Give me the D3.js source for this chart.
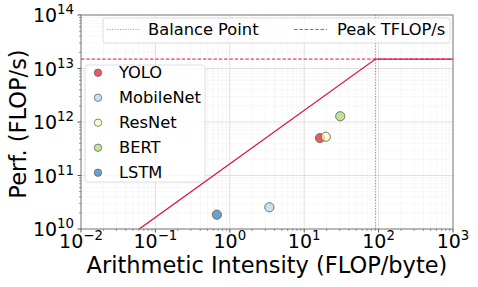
<!DOCTYPE html>
<html>
<head>
<meta charset="utf-8">
<script src="https://cdn.jsdelivr.net/npm/d3@7"></script>
<style>
  body { margin: 0; background: #fff; }
  svg { font-family: "DejaVu Sans", sans-serif; display: block; }
</style>
</head>
<body>
<div id="chart"></div>
<script>
// Roofline values
var models = ["YOLO", "MobileNet", "ResNet", "BERT", "LSTM"];
var intensity = [16.3, 3.4, 19.5, 30.5, 0.67];      // FLOP/byte
var perf = [5.0e11, 2.55e10, 5.3e11, 1.28e12, 1.85e10]; // FLOP/s
var colors = ["#d7191c", "#abd9e9", "#ffffbf", "#a6d96a", "#2c7bb6"];

var peak = 1.5e13;        // FLOP/s
var bandwidth = 1.65e11;  // byte/s
var balance = peak / bandwidth;

var xTickExp = [-2, -1, 0, 1, 2, 3];
var yTickExp = [10, 11, 12, 13, 14];

var width = 478, height = 287;
var margin = {top: 15, right: 25, bottom: 58, left: 81};

var svg = d3.select("#chart").append("svg")
    .attr("width", width)
    .attr("height", height);

var x = d3.scaleLog()
    .domain([1e-2, 1e3])
    .range([margin.left, width - margin.right]);

var y = d3.scaleLog()
    .domain([1e10, 1e14])
    .range([height - margin.bottom, margin.top]);

var x0 = x.range()[0], x1 = x.range()[1];
var y0 = y.range()[0], y1 = y.range()[1];

svg.append("defs").append("clipPath")
    .attr("id", "clip")
  .append("rect")
    .attr("x", x0).attr("y", y1)
    .attr("width", x1 - x0).attr("height", y0 - y1);

// minor / major positions
function minors(lo, hi) {
  var out = [];
  for (var e = lo; e < hi; e++)
    for (var m = 2; m <= 9; m++) out.push(m * Math.pow(10, e));
  return out;
}
var xMinor = minors(-2, 3), yMinor = minors(10, 14);

// Grid
var grid = svg.append("g");
grid.selectAll(".xm").data(xMinor).enter().append("line")
    .attr("x1", function(d) { return x(d) }).attr("x2", function(d) { return x(d) })
    .attr("y1", y0).attr("y2", y1)
    .attr("stroke", "#f1f1f1").attr("stroke-width", 0.6);
grid.selectAll(".ym").data(yMinor).enter().append("line")
    .attr("y1", function(d) { return y(d) }).attr("y2", function(d) { return y(d) })
    .attr("x1", x0).attr("x2", x1)
    .attr("stroke", "#f1f1f1").attr("stroke-width", 0.6);
grid.selectAll(".xM").data(xTickExp).enter().append("line")
    .attr("x1", function(d) { return x(Math.pow(10, d)) }).attr("x2", function(d) { return x(Math.pow(10, d)) })
    .attr("y1", y0).attr("y2", y1)
    .attr("stroke", "#d9d9d9").attr("stroke-width", 0.8);
grid.selectAll(".yM").data(yTickExp).enter().append("line")
    .attr("y1", function(d) { return y(Math.pow(10, d)) }).attr("y2", function(d) { return y(Math.pow(10, d)) })
    .attr("x1", x0).attr("x2", x1)
    .attr("stroke", "#d9d9d9").attr("stroke-width", 0.8);

// Roofline
var plot = svg.append("g").attr("clip-path", "url(#clip)");

// balance point
plot.append("line")
    .attr("x1", x(balance)).attr("x2", x(balance))
    .attr("y1", y0).attr("y2", y1)
    .attr("stroke", "#e8506e").attr("stroke-opacity", 0.75)
    .attr("stroke-width", 1.2).attr("stroke-dasharray", "1.4,1.4");

// peak
plot.append("line")
    .attr("x1", x0).attr("x2", x1)
    .attr("y1", y(peak)).attr("y2", y(peak))
    .attr("stroke", "#dc143c").attr("stroke-width", 1)
    .attr("stroke-dasharray", "3.5,1.8");

var roof = [1e-2, balance, 1e3].map(function(v) {
  return [v, Math.min(peak, bandwidth * v)];
});
plot.append("path")
    .datum(roof)
    .attr("fill", "none")
    .attr("stroke", "#dc143c")
    .attr("stroke-width", 1.3)
    .attr("d", d3.line().x(function(d) { return x(d[0]) }).y(function(d) { return y(d[1]) }));

// Points
plot.selectAll(".pt").data(models).enter().append("circle")
    .attr("cx", function(d, i) { return x(intensity[i]) })
    .attr("cy", function(d, i) { return y(perf[i]) })
    .attr("r", 4.6)
    .attr("fill", function(d, i) { return colors[i] })
    .attr("fill-opacity", 0.7)
    .attr("stroke", "#666").attr("stroke-width", 0.9);

// Spines
svg.append("rect")
    .attr("x", x0).attr("y", y1)
    .attr("width", x1 - x0).attr("height", y0 - y1)
    .attr("fill", "none").attr("stroke", "#808080").attr("stroke-width", 1);

// Ticks
var ticks = svg.append("g").attr("stroke", "#555");
ticks.selectAll(".xt").data(xTickExp).enter().append("line")
    .attr("x1", function(d) { return x(Math.pow(10, d)) }).attr("x2", function(d) { return x(Math.pow(10, d)) })
    .attr("y1", y0).attr("y2", y0 + 3.5);
ticks.selectAll(".xmt").data(xMinor).enter().append("line")
    .attr("x1", function(d) { return x(d) }).attr("x2", function(d) { return x(d) })
    .attr("y1", y0).attr("y2", y0 + 2).attr("stroke-width", 0.6);
ticks.selectAll(".yt").data(yTickExp).enter().append("line")
    .attr("y1", function(d) { return y(Math.pow(10, d)) }).attr("y2", function(d) { return y(Math.pow(10, d)) })
    .attr("x1", x0).attr("x2", x0 - 3.5);
ticks.selectAll(".ymt").data(yMinor).enter().append("line")
    .attr("y1", function(d) { return y(d) }).attr("y2", function(d) { return y(d) })
    .attr("x1", x0).attr("x2", x0 - 2).attr("stroke-width", 0.6);

function powLabel(sel, e) {
  sel.append("tspan").text("10");
  sel.append("tspan")
      .attr("dy", -8)
      .style("font-size", "13.3px")
      .text(String(e).replace("-", "\u2212"));
}

svg.selectAll(".xl").data(xTickExp).enter().append("text")
    .attr("x", function(d) { return x(Math.pow(10, d)) })
    .attr("y", y0 + 19)
    .attr("text-anchor", "middle")
    .style("font-size", "19px")
    .each(function(d) { powLabel(d3.select(this), d) });

svg.selectAll(".yl").data(yTickExp).enter().append("text")
    .attr("x", x0 - 7)
    .attr("y", function(d) { return y(Math.pow(10, d)) + 7.3 })
    .attr("text-anchor", "end")
    .style("font-size", "19px")
    .each(function(d) { powLabel(d3.select(this), d) });

// Axis labels
svg.append("text")
    .attr("x", (x0 + x1) / 2)
    .attr("y", 273)
    .attr("text-anchor", "middle")
    .style("font-size", "22.5px")
    .text("Arithmetic Intensity (FLOP/byte)");

svg.append("text")
    .attr("transform", "translate(26," + ((y0 + y1) / 2 + 2) + ") rotate(-90)")
    .attr("text-anchor", "middle")
    .style("font-size", "22.5px")
    .text("Perf. (FLOP/s)");

// Legend for the model points
var leg1 = svg.append("g");
leg1.append("rect")
    .attr("x", 85).attr("y", 65)
    .attr("width", 120).attr("height", 117)
    .attr("rx", 3)
    .attr("fill", "#fff").attr("fill-opacity", 0.8)
    .attr("stroke", "#d6d6d6").attr("stroke-width", 0.8);
var item = leg1.selectAll(".it").data(models).enter().append("g")
    .attr("transform", function(d, i) { return "translate(98," + (72.7 + i * 25) + ")" });
item.append("circle")
    .attr("r", 3.7)
    .attr("fill", function(d, i) { return colors[i] })
    .attr("fill-opacity", 0.7)
    .attr("stroke", "#666").attr("stroke-width", 0.8);
item.append("text")
    .attr("x", 21).attr("y", 5.6)
    .style("font-size", "16.3px")
    .text(function(d) { return d });

// Legend for the roof lines
var leg2 = svg.append("g");
leg2.append("rect")
    .attr("x", 103).attr("y", 18)
    .attr("width", 347).attr("height", 25)
    .attr("rx", 3)
    .attr("fill", "#fff").attr("fill-opacity", 0.8)
    .attr("stroke", "#d6d6d6").attr("stroke-width", 0.8);
leg2.append("line")
    .attr("x1", 107).attr("x2", 140).attr("y1", 29.5).attr("y2", 29.5)
    .attr("stroke", "#999").attr("stroke-width", 1)
    .attr("stroke-dasharray", "1,1.6");
leg2.append("text")
    .attr("x", 148).attr("y", 35.3)
    .style("font-size", "16.3px")
    .text("Balance Point");
leg2.append("line")
    .attr("x1", 294).attr("x2", 327).attr("y1", 29.5).attr("y2", 29.5)
    .attr("stroke", "#777").attr("stroke-width", 1)
    .attr("stroke-dasharray", "3.5,1.8");
leg2.append("text")
    .attr("x", 337).attr("y", 35.3)
    .style("font-size", "16.3px")
    .text("Peak TFLOP/s");
</script>
</body>
</html>
